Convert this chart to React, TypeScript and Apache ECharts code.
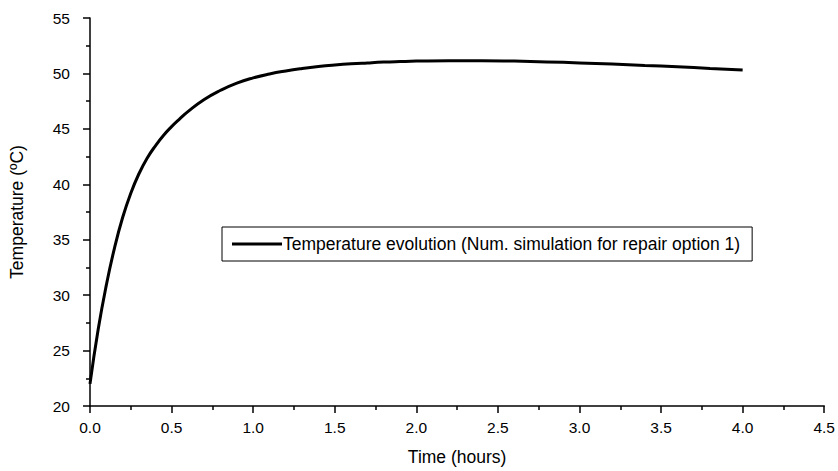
import React, { useEffect, useRef } from "react";
import * as echarts from "echarts";

const times = [
  0, 0.05, 0.1, 0.15, 0.2, 0.25, 0.3, 0.35, 0.4, 0.45, 0.5, 0.55, 0.6,
  0.7, 0.8, 0.9, 1.0, 1.1, 1.2, 1.3, 1.4, 1.5, 1.6, 1.7, 1.8, 1.9, 2.0,
  2.2, 2.4, 2.6, 2.8, 3.0, 3.2, 3.4, 3.6, 3.8, 4.0,
];
const temps = [
  22.0, 26.9, 30.9, 34.25, 37.0, 39.2, 40.95, 42.35, 43.45, 44.4, 45.2, 45.9, 46.55,
  47.65, 48.48, 49.13, 49.6, 49.95, 50.22, 50.44, 50.62, 50.76, 50.87, 50.95, 51.02, 51.07, 51.11,
  51.15, 51.15, 51.11, 51.04, 50.95, 50.84, 50.72, 50.6, 50.45, 50.3,
];
const seriesName = "Temperature evolution (Num. simulation for repair option 1)";
const xTitle = "Time (hours)";
const yTitle = "Temperature (ºC)";

const FONT = "'Liberation Sans', Arial, Helvetica, sans-serif";

export default function App() {
  const ref = useRef<HTMLDivElement>(null);
  useEffect(() => {
    if (!ref.current) return;
    const chart = echarts.init(ref.current, undefined, { renderer: "svg" });
    const axisCommon = {
      axisLine: { show: true, lineStyle: { color: "#000", width: 1.5 } },
      axisTick: { show: true, inside: false, length: 7, lineStyle: { color: "#000", width: 1.5 } },
      minorTick: { show: true, splitNumber: 2, length: 4, lineStyle: { color: "#000", width: 1.5 } },
      splitLine: { show: false },
      nameTextStyle: { color: "#000", fontSize: 17.5, fontFamily: FONT },
    };
    chart.setOption({
      animation: false,
      backgroundColor: "#fff",
      textStyle: { fontFamily: FONT },
      grid: { left: 88, top: 18, right: 10, bottom: 60 },
      legend: {
        show: true,
        left: 222,
        top: 227,
        padding: [8, 12, 8, 10],
        borderColor: "#000",
        borderWidth: 1,
        itemWidth: 50,
        itemHeight: 14,
        itemGap: 0,
        textStyle: { color: "#000", fontSize: 17.5, fontFamily: FONT, padding: [0, 0, 0, -4] },
        data: [{ name: seriesName, icon: "path://M0,5.5 L50,5.5 L50,8.5 L0,8.5 Z" }],
      },
      xAxis: {
        type: "value",
        min: 0,
        max: 4.5,
        interval: 0.5,
        name: xTitle,
        nameLocation: "middle",
        nameGap: 42,
        ...axisCommon,
        axisLabel: {
          color: "#000",
          fontSize: 15.5,
          fontFamily: FONT,
          margin: 13,
          formatter: (v: number) => v.toFixed(1),
        },
      },
      yAxis: {
        type: "value",
        min: 20,
        max: 55,
        interval: 5,
        name: yTitle,
        nameLocation: "middle",
        nameGap: 64,
        ...axisCommon,
        axisLabel: { color: "#000", fontSize: 15.5, fontFamily: FONT, margin: 20 },
      },
      series: [
        {
          name: seriesName,
          type: "line",
          data: times.map((t, i) => [t, temps[i]]),
          smooth: 0.5,
          showSymbol: false,
          symbol: "none",
          lineStyle: { color: "#000", width: 3 },
          itemStyle: { color: "#000" },
        },
      ],
    });
    return () => chart.dispose();
  }, []);
  return <div ref={ref} style={{ width: 838, height: 471, position: "absolute", left: 0, top: 0 }} />;
}
